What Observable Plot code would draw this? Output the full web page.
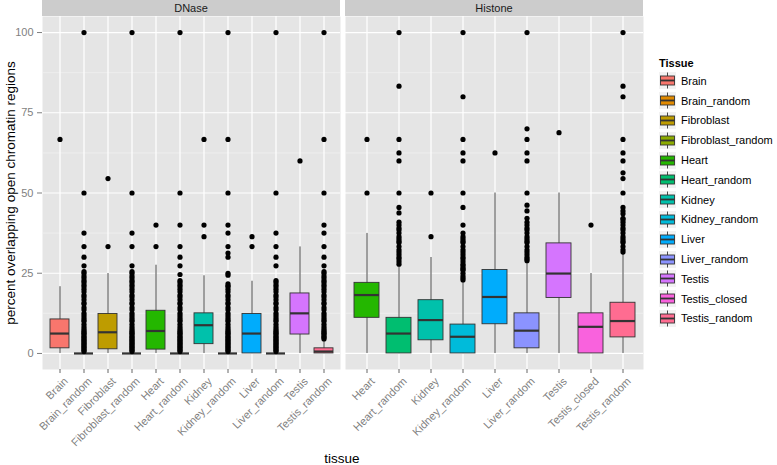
<!DOCTYPE html>
<html><head><meta charset="utf-8">
<script src="https://cdn.jsdelivr.net/npm/d3@7"></script>
<script src="https://cdn.jsdelivr.net/npm/@observablehq/plot@0.6"></script>
<style>
body{margin:0;background:#fff;font-family:"Liberation Sans",Arial,sans-serif;}
#chart{position:relative;width:777px;height:465px;overflow:hidden;background:#fff;}
.strip{position:absolute;top:0;height:16px;background:#cccccc;font-size:11px;color:#1a1a1a;text-align:center;line-height:17px;}
.xtitle{position:absolute;left:292px;width:100px;top:450px;text-align:center;font-size:13.5px;line-height:18px;color:#000;}
#legend{position:absolute;left:659px;top:55px;}
#legend .ttl{font-weight:bold;font-size:11px;height:16px;line-height:16px;color:#000;}
#legend .row{height:19.8px;display:flex;align-items:center;font-size:11px;color:#000;}
#legend .row svg{margin-right:5px;display:block;}
.pl{position:absolute;top:16px;}
</style></head><body><div id="chart"></div>
<script>
// ---------- data ----------
const tissues = ["Brain","Brain_random","Fibroblast","Fibroblast_random","Heart","Heart_random","Kidney","Kidney_random","Liver","Liver_random","Testis","Testis_closed","Testis_random"];
const tissueColors = ["#F8766D","#E18A00","#BE9C00","#8CAB00","#24B700","#00BE70","#00C1AB","#00BBDA","#00ACFC","#8B93FF","#D575FE","#F962DD","#FF6C91"];
const panels = ["DNase","Histone"];
const yTicks = [0,25,50,75,100];
const yMinor = [12.5,37.5,62.5,87.5];
const yTitle = "percent overlapping open chromatin regions";
const xTitle = "tissue";
const legendTitle = "Tissue";

// DNase panel
const dnaseTissues = ["Brain","Brain_random","Fibroblast","Fibroblast_random","Heart","Heart_random","Kidney","Kidney_random","Liver","Liver_random","Testis","Testis_random"];
const dnaseLo  = [0,0,0,0,0,0,0,0,0,0,0,0];
const dnaseQ1  = [1.6,0,1.3,0,1.2,0,2.9,0,0,0,5.9,0];
const dnaseMed = [6.2,0,6.6,0,7.0,0,8.8,0,6.2,0,12.5,0.6];
const dnaseQ3  = [10.6,0,12.3,0,13.3,0,12.5,0,12.3,0,18.7,1.6];
const dnaseHi  = [20.8,0,24.9,0,27.5,0,24.2,0,22.5,0,33.2,3.8];
const dnaseOutliers = [
  [66.7],
  [100,50,37.5,33.3,30,27.3,25.5,25,24.1,23.5,22.7,22.2,21.4,20.8,20,19.2,18.2,17.6,16.7,15.8,15.4,14.3,13.6,12.5,11.8,11.1,10.5,10,9.1,8.3,7.7,7.1,6.7,6.3,5.9,5.3,5,4.5,4.2,3.8,3.3,3,2.6,2.2,1.8,1.4,1,0.6],
  [54.5,33.3],
  [100,50,37.5,33.3,27.3,25.5,25,24.1,23.5,22.7,22.2,21.4,20.8,20,19.2,18.2,17.6,16.7,15.8,15.4,14.3,13.6,12.5,11.8,11.1,10.5,10,9.1,8.3,7.7,7.1,6.7,6.3,5.9,5.3,5,4.5,4.2,3.8,3.3,3,2.6,2.2,1.8,1.4,1,0.6],
  [40,33.3],
  [100,50,40,33.3,30,27.3,24.6,22.7,22.2,21.4,20.8,20,19.2,18.2,17.6,16.7,15.8,15.4,14.3,13.6,12.5,11.8,11.1,10.5,10,9.1,8.3,7.7,7.1,6.7,6.3,5.9,5.3,5,4.5,4.2,3.8,3.3,3,2.6,2.2,1.8,1.4,1,0.6],
  [66.7,40,36.4],
  [100,66.7,50,40,37.5,33.3,31.3,30,25,24.4,21.7,21.1,20.8,20,19.2,18.2,17.6,16.7,15.8,15.4,14.3,13.6,12.5,11.8,11.1,10.5,10,9.1,8.3,7.7,7.1,6.7,6.3,5.9,5.3,5,4.5,4.2,3.8,3.3,3,2.6,2.2,1.8,1.4,1,0.6],
  [36.4,33.3],
  [100,50,37.5,33.3,30,27.3,22.7,22.2,21.4,20.8,20,19.2,18.2,17.6,16.7,15.8,15.4,14.3,13.6,12.5,11.8,11.1,10.5,10,9.1,8.3,7.7,7.1,6.7,6.3,5.9,5.3,5,4.5,4.2,3.8,3.3,3,2.6,2.2,1.8,1.4,1,0.6],
  [60],
  [100,66.7,50,40,37.5,33.3,30,27.3,25.5,25,24.1,23.5,22.7,22.2,21.4,20.8,20,19.2,18.2,17.6,16.7,15.8,15.4,14.3,13.6,12.5,11.8,11.1,10.5,10,9.1,8.3,7.7,7.1,6.7,6.3,5.9,5.3,5,4.5]
];

// Histone panel
const histoneTissues = ["Heart","Heart_random","Kidney","Kidney_random","Liver","Liver_random","Testis","Testis_closed","Testis_random"];
const histoneLo  = [0,0,0,0,0,0,0,0,0];
const histoneQ1  = [11.1,0,4.1,0,9.1,1.6,17.3,0,5.0];
const histoneMed = [18.2,6.2,10.4,5.2,17.6,7.1,24.9,8.3,10.1];
const histoneQ3  = [22.0,11.1,16.6,9.0,26.0,12.5,34.3,12.5,15.8];
const histoneHi  = [37.4,27.0,29.9,22.3,50,28.2,50,24.9,31.2];
const histoneOutliers = [
  [66.7,50],
  [100,83.3,66.7,62.5,60,50,45.5,43.8,40.9,40,39.1,38.5,37.5,36.4,35.7,35,34.5,33.3,32.3,31.6,30.8,30,29.4,28.6,27.8],
  [50,36.4],
  [100,80,66.7,62.5,60,50,45.5,40,37.5,36.4,35.7,35,34.5,33.3,32.3,31.6,30.8,30,29.4,28.6,27.8,27.3,26.7,26.3,25.9,25,24.1,23.5,22.9],
  [62.5],
  [100,70,66.7,62.5,60,50,46.2,44.4,42.1,40.9,40,39.1,38.5,37.5,36.4,35.7,35,34.5,33.3,32.3,31.6,30.8,30,29.4,28.9],
  [68.8],
  [40],
  [100,83.3,80,66.7,62.5,60,56.3,54.5,50,45.5,44.4,43.5,42.1,41.7,40.9,40,39.1,38.5,37.5,36.4,35.7,35,34.5,33.3,32.3,31.6]
];

// ---------- build ----------
const font = '"Liberation Sans", Arial, sans-serif';
const chart = document.getElementById("chart");

function panelPlot(names, lo, q1, med, q3, hi, outs, withYAxis) {
  const rows = names.map((t, i) => ({tissue: t, lo: lo[i], q1: q1[i], med: med[i], q3: q3[i], hi: hi[i]}));
  const pts = names.flatMap((t, i) => outs[i].map(v => ({tissue: t, v})));
  const marks = [
    Plot.frame({fill: "#e5e5e5"}),
    Plot.ruleY(yMinor, {stroke: "#f2f2f2", strokeWidth: 0.7}),
    Plot.gridY(yTicks, {stroke: "#ffffff", strokeOpacity: 1, strokeWidth: 1.2}),
    Plot.gridX({stroke: "#ffffff", strokeOpacity: 1, strokeWidth: 1.2}),
    Plot.ruleX(rows, {x: "tissue", y1: "lo", y2: "hi", stroke: "#333333", strokeWidth: 0.9}),
    Plot.barY(rows, {x: "tissue", y1: "q1", y2: "q3", fill: "tissue", stroke: "#333333", strokeWidth: 0.9}),
    Plot.tickY(rows, {x: "tissue", y: "med", stroke: "#333333", strokeWidth: 2.2}),
    Plot.dot(pts, {x: "tissue", y: "v", r: 2.6, fill: "#000000", stroke: "none"}),
    Plot.axisX({tickSize: 4, tickFormat: () => "", label: null, color: "#666666"}),
    Plot.text(names, {x: d => d, text: d => d, frameAnchor: "bottom", rotate: -45, textAnchor: "end", lineAnchor: "top", dx: 3, dy: 7, fontSize: 11, fill: "#7f7f7f"})
  ];
  if (withYAxis) {
    marks.push(Plot.axisY(yTicks, {tickSize: 5, tickPadding: 4, fontSize: 11, color: "#7f7f7f", label: null}));
    marks.push(Plot.text([yTitle], {frameAnchor: "left", textAnchor: "middle", lineAnchor: "middle", rotate: -90, text: d => d, dx: -32, fontSize: 13.5, fill: "#000000"}));
  }
  return Plot.plot({
    width: withYAxis ? 345 : 303,
    height: 449,
    marginLeft: withYAxis ? 42 : 0,
    marginRight: 5,
    marginTop: 0,
    marginBottom: 96,
    style: {background: "transparent", fontFamily: font, overflow: "visible"},
    x: {type: "band", domain: names, paddingInner: 0.22, paddingOuter: 0.21, axis: null, label: null},
    y: {domain: [-5, 105], axis: null, label: null},
    color: {domain: tissues, range: tissueColors},
    marks
  });
}

const p1 = panelPlot(dnaseTissues, dnaseLo, dnaseQ1, dnaseMed, dnaseQ3, dnaseHi, dnaseOutliers, true);
p1.classList.add("pl"); p1.style.left = "0px";
const p2 = panelPlot(histoneTissues, histoneLo, histoneQ1, histoneMed, histoneQ3, histoneHi, histoneOutliers, false);
p2.classList.add("pl"); p2.style.left = "345px";
chart.appendChild(p1);
chart.appendChild(p2);

// strips
[[panels[0], 42], [panels[1], 345]].forEach(([name, left]) => {
  const s = document.createElement("div");
  s.className = "strip"; s.style.left = left + "px"; s.style.width = "298px";
  s.textContent = name; chart.appendChild(s);
});

// x title
const xt = document.createElement("div");
xt.className = "xtitle"; xt.textContent = xTitle; chart.appendChild(xt);

// legend
const leg = document.createElement("div");
leg.id = "legend";
const lt = document.createElement("div"); lt.className = "ttl"; lt.textContent = legendTitle; leg.appendChild(lt);
tissues.forEach((t, i) => {
  const row = document.createElement("div"); row.className = "row";
  const svg = d3.create("svg").attr("width", 17).attr("height", 17);
  svg.append("rect").attr("width", 17).attr("height", 17).attr("fill", "#f2f2f2");
  svg.append("line").attr("x1", 8.5).attr("x2", 8.5).attr("y1", 0.5).attr("y2", 16.5).attr("stroke", "#333").attr("stroke-width", 0.9);
  svg.append("rect").attr("x", 1.5).attr("y", 4).attr("width", 14).attr("height", 9).attr("fill", tissueColors[i]).attr("stroke", "#333").attr("stroke-width", 0.9);
  svg.append("line").attr("x1", 1.5).attr("x2", 15.5).attr("y1", 8.5).attr("y2", 8.5).attr("stroke", "#333").attr("stroke-width", 1.8);
  row.appendChild(svg.node());
  const lab = document.createElement("span"); lab.textContent = t; row.appendChild(lab);
  leg.appendChild(row);
});
chart.appendChild(leg);
</script>
</body></html>
